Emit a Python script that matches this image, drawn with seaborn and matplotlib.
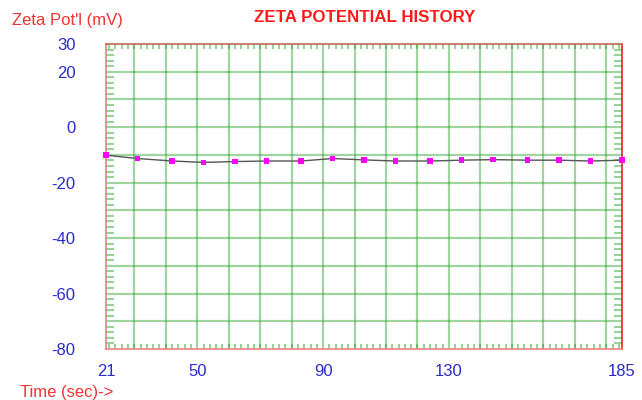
import numpy as np
import pandas as pd
import matplotlib.pyplot as plt
from matplotlib.ticker import MultipleLocator
import seaborn as sns

sns.set_style("white")
plt.rcParams['font.family'] = ['Liberation Sans', 'DejaVu Sans']

# data
time_s = [21, 31, 42, 52, 62, 72, 83, 93, 103, 113, 124, 134, 144, 155, 165, 175, 185]
zeta_mv = [-10.1, -11.3, -12.2, -12.7, -12.4, -12.2, -12.2, -11.3, -11.8, -12.2,
           -12.2, -11.9, -11.7, -11.9, -11.9, -12.2, -11.9]
x_ticks = [21, 50, 90, 130, 185]
y_ticks = [30, 20, 10, 0, -10, -20, -30, -40, -50, -60, -70, -80]
y_ticklabels = ["30", "20", "", "0", "", "-20", "", "-40", "", "-60", "", "-80"]

df = pd.DataFrame({"time": time_s, "zeta": zeta_mv})

blue = "#2b2bcc"
red = "#ff1a1a"
green = "#2ca02c"

fig = plt.figure(figsize=(6.42, 4.0), dpi=100)
ax = fig.add_axes([106 / 642, 51 / 400, 516 / 642, 305 / 400])

# grid every 10 units
for gx in range(30, 181, 10):
    ax.axvline(gx, color=green, alpha=0.45, lw=1.6, zorder=1)
for gy in range(-70, 30, 10):
    ax.axhline(gy, color=green, alpha=0.45, lw=1.6, zorder=1)

sns.lineplot(data=df, x="time", y="zeta", ax=ax, color="#555555", lw=1.0, zorder=3)
sns.scatterplot(data=df, x="time", y="zeta", ax=ax, color="#ff00ff", marker="s",
                s=16, edgecolor="none", zorder=4, clip_on=False)

ax.set_xlim(21, 185)
ax.set_ylim(-80, 30)
ax.set_xticks(x_ticks)
ax.set_xticklabels([str(v) for v in x_ticks])
ax.set_yticks(y_ticks)
ax.set_yticklabels(y_ticklabels)
ax.xaxis.set_minor_locator(MultipleLocator(2))
ax.yaxis.set_minor_locator(MultipleLocator(2))

ax.tick_params(axis="both", which="major", length=0, labelsize=12, labelcolor=blue)
ax.tick_params(axis="x", which="major", pad=11)
ax.tick_params(axis="y", which="major", pad=22)
ax.tick_params(axis="x", which="minor", direction="in", length=3.5, width=1.2,
               color="#7fcc7f", top=True, bottom=True)
ax.tick_params(axis="y", which="minor", direction="in", length=6, width=1.2,
               color="#7fcc7f", left=True, right=True)
for lab in ax.get_yticklabels():
    lab.set_horizontalalignment("right")

ax.set_xlabel("")
ax.set_ylabel("")
ax.spines["left"].set_color("#e88080")
ax.spines["bottom"].set_color("#f08080")
ax.spines["top"].set_color("#c06a5a")
ax.spines["right"].set_color("#ee2020")
for sp in ax.spines.values():
    sp.set_linewidth(1.2)

fig.text(365 / 642, 1 - 17 / 400, "ZETA POTENTIAL HISTORY", color=red,
         fontsize=12.2, fontweight="bold", ha="center", va="center")
fig.text(12 / 642, 1 - 20 / 400, "Zeta Pot'l (mV)", color="#ee3333",
         fontsize=12, ha="left", va="center")
fig.text(20 / 642, 1 - 392 / 400, "Time (sec)->", color="#ee3333",
         fontsize=12, ha="left", va="center")

fig.savefig("out.png", dpi=100)
plt.close()
